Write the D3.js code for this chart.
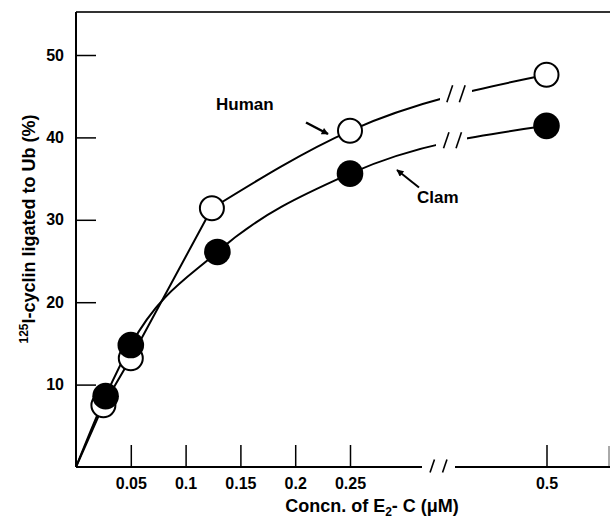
<!DOCTYPE html>
<html>
<head>
<meta charset="utf-8">
<script src="https://cdn.jsdelivr.net/npm/d3@7"></script>
<style>
  body { margin: 0; background: #fff; }
  svg { display: block; font-family: "Liberation Sans", Arial, sans-serif; font-weight: bold; }
</style>
</head>
<body>
<svg width="610" height="518"></svg>
<script>
// E2-C concentration (uM) and % of 125I-cyclin ligated to Ub
const humanConc = [0, 0.025, 0.05, 0.124, 0.25, 0.5];
const humanPct = [0, 7.5, 13.2, 31.4, 40.8, 47.6];
const clamConc = [0, 0.027, 0.05, 0.129, 0.25, 0.5];
const clamPct = [0, 8.6, 14.8, 26.1, 35.6, 41.4];
const xTicks = [0.05, 0.1, 0.15, 0.2, 0.25, 0.5];
const yTicks = [10, 20, 30, 40, 50];

let svg = d3.select("svg");
let width = +svg.attr("width");

// broken x axis: 0-0.25 is linear, then jumps to 0.5
let x = d3.scaleLinear().domain([0, 0.25, 0.5]).range([76, 350, 546.5]);
let y = d3.scaleLinear().domain([0, 50]).range([467, 55]);
let frameTop = 12;

let human = humanConc.map((c, i) => ({ c: c, v: humanPct[i] }));
let clam = clamConc.map((c, i) => ({ c: c, v: clamPct[i] }));

// frame
svg.append("line")
  .attr("x1", x(0)).attr("x2", width)
  .attr("y1", frameTop).attr("y2", frameTop)
  .attr("stroke", "#333").attr("stroke-width", 2);
svg.append("line")
  .attr("x1", x(0)).attr("x2", x(0))
  .attr("y1", frameTop).attr("y2", y(0))
  .attr("stroke", "#000").attr("stroke-width", 2);
svg.append("line")
  .attr("x1", width - 1).attr("x2", width - 1)
  .attr("y1", y(0) - 21).attr("y2", y(0))
  .attr("stroke", "#555").attr("stroke-width", 1);

// y axis, ticks pointing inward
let yAxis = svg.append("g")
  .attr("transform", `translate(${x(0)},0)`)
  .call(d3.axisLeft(y).tickValues(yTicks).tickSize(-20).tickPadding(12));
yAxis.select(".domain").remove();
yAxis.selectAll(".tick line").attr("stroke-width", 1.5);
yAxis.selectAll("text")
  .style("font-size", "16px")
  .style("font-family", "inherit")
  .attr("fill", "#000");

// x axis
let xAxis = svg.append("g")
  .attr("transform", `translate(0,${y(0)})`)
  .call(d3.axisBottom(x).tickValues(xTicks).tickSize(-22).tickPadding(11).tickFormat(d => String(d)));
xAxis.select(".domain").remove();
xAxis.selectAll(".tick line").attr("stroke-width", 1.5);
xAxis.selectAll("text")
  .style("font-size", "16px")
  .style("font-family", "inherit")
  .attr("fill", "#000");

let axisBreak = [422, 455];
svg.append("line")
  .attr("x1", x(0)).attr("x2", axisBreak[0])
  .attr("y1", y(0)).attr("y2", y(0))
  .attr("stroke", "#000").attr("stroke-width", 2);
svg.append("line")
  .attr("x1", axisBreak[1]).attr("x2", width)
  .attr("y1", y(0)).attr("y2", y(0))
  .attr("stroke", "#000").attr("stroke-width", 2);

function slashes(cx, cy, gap, h) {
  [-gap / 2, gap / 2].forEach(off => {
    svg.append("line")
      .attr("x1", cx + off - h * 0.17).attr("y1", cy + h / 2)
      .attr("x2", cx + off + h * 0.17).attr("y2", cy - h / 2)
      .attr("stroke", "#000").attr("stroke-width", 1.6);
  });
}
slashes(438.5, y(0) - 1, 12.5, 13);

// curves
let lineSmooth = d3.line().x(d => x(d.c)).y(d => y(d.v)).curve(d3.curveMonotoneX);
let lineStraight = d3.line().x(d => x(d.c)).y(d => y(d.v));

let defs = svg.append("defs");
function gapClip(id, x0, x1) {
  let cp = defs.append("clipPath").attr("id", id);
  cp.append("rect").attr("x", 0).attr("y", 0).attr("width", x0).attr("height", 518);
  cp.append("rect").attr("x", x1).attr("y", 0).attr("width", width - x1).attr("height", 518);
}
gapClip("gap-human", 440, 472);
gapClip("gap-clam", 436, 467);

// human: straight up to 0.125, then bends over
let humanPath = svg.append("g").attr("clip-path", "url(#gap-human)");
humanPath.append("path")
  .attr("d", lineStraight(human.slice(0, 4)))
  .attr("fill", "none").attr("stroke", "#000").attr("stroke-width", 2);
let humanCurve = humanPath.append("path")
  .attr("d", lineSmooth(human.slice(3)))
  .attr("fill", "none").attr("stroke", "#000").attr("stroke-width", 2);

let clamCurve = svg.append("path")
  .attr("clip-path", "url(#gap-clam)")
  .attr("d", lineSmooth(clam))
  .attr("fill", "none").attr("stroke", "#000").attr("stroke-width", 2);

// find y on a path for a given x
function yAtX(node, px) {
  let lo = 0, hi = node.getTotalLength();
  for (let k = 0; k < 40; k++) {
    let mid = (lo + hi) / 2;
    if (node.getPointAtLength(mid).x < px) lo = mid; else hi = mid;
  }
  return node.getPointAtLength(lo).y;
}
slashes(456, yAtX(humanCurve.node(), 456) - 1, 12.5, 17);
slashes(452.5, yAtX(clamCurve.node(), 452.5) - 1, 12.5, 16);

// markers
svg.selectAll(".human-pt")
  .data(human.slice(1))
  .enter()
  .append("circle")
  .attr("class", "human-pt")
  .attr("cx", d => x(d.c))
  .attr("cy", d => y(d.v))
  .attr("r", 12)
  .attr("fill", "#fff")
  .attr("stroke", "#000")
  .attr("stroke-width", 2);

svg.selectAll(".clam-pt")
  .data(clam.slice(1))
  .enter()
  .append("circle")
  .attr("class", "clam-pt")
  .attr("cx", d => x(d.c))
  .attr("cy", d => y(d.v))
  .attr("r", 13.3)
  .attr("fill", "#000");

// labels + arrows
defs.append("marker")
  .attr("id", "head")
  .attr("viewBox", "0 0 10 10")
  .attr("refX", 9).attr("refY", 5)
  .attr("markerWidth", 9).attr("markerHeight", 7)
  .attr("markerUnits", "userSpaceOnUse")
  .attr("orient", "auto")
  .append("path")
  .attr("d", "M0,0L10,5L0,10z")
  .attr("fill", "#000");

svg.append("line")
  .attr("x1", 306).attr("y1", 122.5)
  .attr("x2", 328).attr("y2", 134)
  .attr("stroke", "#000").attr("stroke-width", 2.5)
  .attr("marker-end", "url(#head)");
svg.append("line")
  .attr("x1", 419).attr("y1", 187.5)
  .attr("x2", 397).attr("y2", 170)
  .attr("stroke", "#000").attr("stroke-width", 2)
  .attr("marker-end", "url(#head)");

svg.append("text")
  .attr("x", 216).attr("y", 110)
  .style("font-size", "17px")
  .text("Human");
svg.append("text")
  .attr("x", 417).attr("y", 203)
  .style("font-size", "17px")
  .text("Clam");

// axis titles
let xt = svg.append("text")
  .attr("x", 372).attr("y", 512)
  .attr("text-anchor", "middle")
  .style("font-size", "18px");
xt.append("tspan").text("Concn. of E");
xt.append("tspan").attr("dy", 4).style("font-size", "12px").text("2");
xt.append("tspan").attr("dy", -4).text("- C (\u03bcM)");

let yt = svg.append("text")
  .attr("transform", "translate(35,229) rotate(-90)")
  .attr("text-anchor", "middle")
  .style("font-size", "18px");
yt.append("tspan").attr("dy", -7).style("font-size", "12px").text("125");
yt.append("tspan").attr("dy", 7).text("I-cyclin ligated to Ub (%)");
</script>
</body>
</html>
